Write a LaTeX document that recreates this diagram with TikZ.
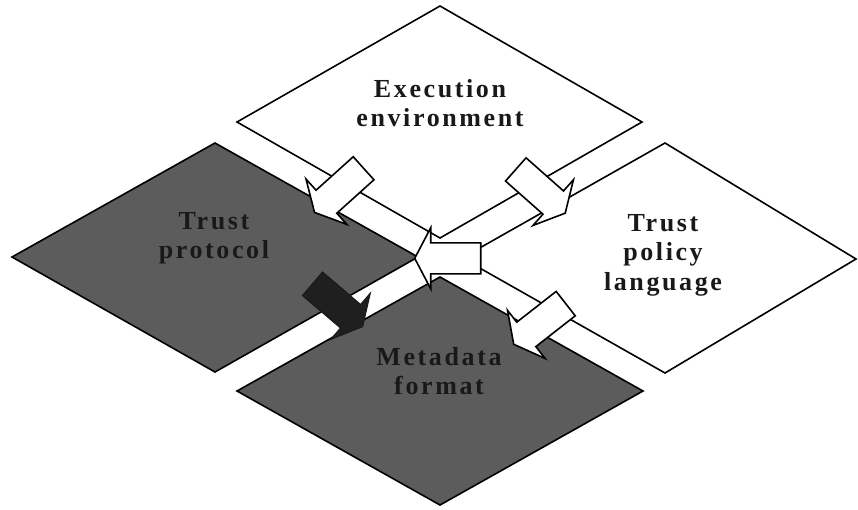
\documentclass[tikz,border=0pt]{standalone}
\usepackage{fontspec}
\setmainfont{Liberation Serif}
\newfontfamily\labelfont{Liberation Serif}[LetterSpace=10]
\begin{document}
\begin{tikzpicture}[x=1pt,y=-1pt,line join=miter,
	box/.style={draw=black,line width=1.6pt},
	darkbox/.style={box,fill=black!64},
	lightbox/.style={box,fill=white},
	tag/.style={font=\labelfont\bfseries\fontsize{26}{29.5}\selectfont,text=black!90,align=center,inner sep=0pt},
	openarrow/.style={draw=black,fill=white,line width=1.6pt},
	solidarrow/.style={draw=black!90,fill=black!88,line width=1pt},
	pics/blockarrow/.style={code={
		\draw[pic actions] (-25,-15.5)--(25,-15.5)--(25,-30.5)--(41,0)--(25,30.5)--(25,15.5)--(-25,15.5)--cycle;}}]
	\useasboundingbox (0,0) rectangle (858,509);
	% the four diamonds
	\draw[lightbox] (440,6)--(642,122)--(440,238)--(237,122)--cycle;
	\draw[darkbox] (215,143)--(418,257)--(215,372)--(12,257)--cycle;
	\draw[lightbox] (665,143)--(856,259)--(665,373)--(462,258)--cycle;
	\draw[darkbox] (440,277)--(643,391)--(440,505)--(237,391)--cycle;
	\node[tag] (exec) at (440,103) {Execution\\environment};
	\node[tag] (protocol) at (214,238) {Trust\\protocol};
	\node[tag] (policy) at (663,255) {Trust\\policy\\language};
	\node[tag] (metadata) at (439,371) {Metadata\\format};
	% block arrows in the gaps
	\pic[openarrow,rotate=222] at (345,185) {blockarrow};
	\pic[openarrow,rotate=-41.5] at (534.5,186) {blockarrow};
	\pic[openarrow,rotate=180] at (455.7,258.3) {blockarrow};
	\pic[openarrow,rotate=218] at (546,319) {blockarrow};
	\pic[solidarrow,rotate=-40.5] at (331.5,300) {blockarrow};
\end{tikzpicture}
\end{document}
